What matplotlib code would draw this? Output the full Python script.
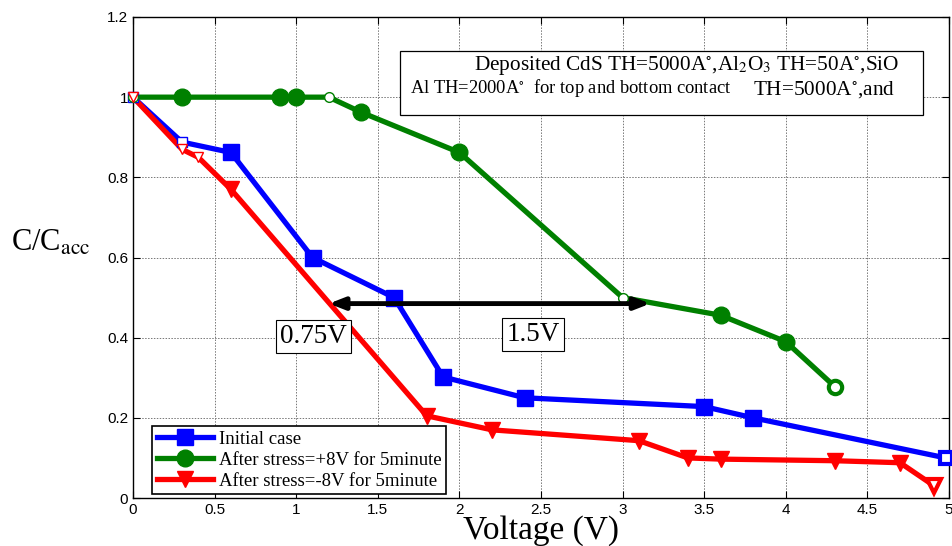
import matplotlib
matplotlib.use("Agg")
import matplotlib.pyplot as plt
import numpy as np

# data
v_init = [0, 0.3, 0.6, 1.1, 1.6, 1.9, 2.4, 3.5, 3.8, 4.98]
c_init = [1.0, 0.888, 0.862, 0.60, 0.50, 0.302, 0.25, 0.228, 0.20, 0.10]

v_pos = [0, 0.3, 0.9, 1.0, 1.2, 1.4, 2.0, 3.0, 3.6, 4.0, 4.3]
c_pos = [1.0, 1.0, 1.0, 1.0, 1.0, 0.962, 0.862, 0.50, 0.456, 0.39, 0.278]

v_neg = [0, 0.3, 0.4, 0.6, 1.8, 2.2, 3.1, 3.4, 3.6, 4.3, 4.7, 4.91]
c_neg = [1.0, 0.87, 0.85, 0.77, 0.205, 0.17, 0.143, 0.10, 0.097, 0.093, 0.088, 0.03]

labels = ["Initial case", "After stress=+8V for 5minute", "After stress=-8V for 5minute"]

# arrow showing the voltage shift
arrow_x = [1.2, 3.17]
arrow_y = 0.485

serif = ["Liberation Serif", "DejaVu Serif"]
sans = ["Liberation Sans", "DejaVu Sans"]

fig = plt.figure(figsize=(9.52, 5.46), dpi=100)
ax = fig.add_axes([133 / 952, 48 / 546, 816 / 952, 481 / 546])

series = [
    (v_init, c_init, "blue", "s", 11, [0, 1, 9]),
    (v_pos, c_pos, "green", "o", 12, [0, 4, 7, 10]),
    (v_neg, c_neg, "red", "v", 12, [0, 1, 2, 11]),
]

for (x, y, col, mk, ms, hollow), lab in zip(series, labels):
    filled = [i for i in range(len(x)) if i not in hollow]
    ax.plot(x, y, color=col, lw=3.8, marker=mk, ms=ms, markevery=filled,
            label=lab, clip_on=False, zorder=3)
    for i in hollow:
        last = i == len(x) - 1
        ax.plot([x[i]], [y[i]], linestyle="none", marker=mk,
                ms=ms * 0.8 if last else 7, mfc="white", mec=col,
                mew=3 if last else 1, clip_on=False, zorder=4)

ax.annotate("", xy=(arrow_x[0], arrow_y), xytext=(arrow_x[1], arrow_y),
            arrowprops=dict(arrowstyle="<|-|>,head_length=0.9,head_width=0.35",
                            lw=3.5, color="black", shrinkA=0, shrinkB=0),
            zorder=5)

box = dict(boxstyle="square,pad=0.15", fc="white", ec="black", lw=0.8)
ax.text(1.107, 0.403, "0.75V", family=serif, fontsize=19.5, ha="center",
        va="center", bbox=box, zorder=6)
ax.text(2.45, 0.407, "1.5V", family=serif, fontsize=19.5, ha="center",
        va="center", bbox=box, zorder=6)

# description box
ax.add_patch(plt.Rectangle((1.633, 0.955), 3.21, 0.16, fill=True, fc="white",
                           ec="black", lw=0.9, zorder=2))
ax.text(2.09, 1.08, "Deposited CdS TH=5000A$^{\\circ}$,Al$_2$O$_3$ TH=50A$^{\\circ}$,SiO",
        family=serif, fontsize=15.3, va="center", ha="left", zorder=6,
        math_fontfamily="stix")
ax.text(1.7, 1.024, "Al TH=2000A$^{\\circ}$  for top and bottom contact",
        family=serif, fontsize=13.3, va="center", ha="left", zorder=6,
        math_fontfamily="stix")
ax.text(3.8, 1.02, "TH=5000A$^{\\circ}$,and", family=serif, fontsize=15.3,
        va="center", ha="left", zorder=6, math_fontfamily="stix")

ax.set_xlim(0, 5)
ax.set_ylim(0, 1.2)
ax.set_xticks(np.arange(0, 5.01, 0.5))
ax.set_xticklabels(["0", "0.5", "1", "1.5", "2", "2.5", "3", "3.5", "4", "4.5", "5"])
ax.set_yticks(np.arange(0, 1.21, 0.2))
ax.set_yticklabels(["0", "0.2", "0.4", "0.6", "0.8", "1", "1.2"])
ax.tick_params(direction="in", top=True, right=True, labelsize=11, length=5)
for t in ax.get_xticklabels() + ax.get_yticklabels():
    t.set_family(sans)
ax.grid(True, linestyle=(0, (1.5, 1.5)), color="#777777", lw=0.7)
for s in ax.spines.values():
    s.set_linewidth(1.0)

ax.set_xlabel("Voltage (V)", family=serif, fontsize=24, labelpad=-1)
ax.set_ylabel("C/C$_{\\rm acc}$", family=serif, fontsize=22, rotation=0,
              math_fontfamily="stix")
ax.yaxis.set_label_coords(-0.101, 0.5)

leg = ax.legend(loc="lower left", bbox_to_anchor=(0.012, -0.012), fancybox=False,
                edgecolor="black", framealpha=1, prop={"family": serif, "size": 13.5},
                handlelength=3.0, handletextpad=0.3, borderpad=0.25, labelspacing=0.2)
leg.get_frame().set_linewidth(1.2)
leg.set_zorder(7)

fig.savefig("out.png", dpi=100)
